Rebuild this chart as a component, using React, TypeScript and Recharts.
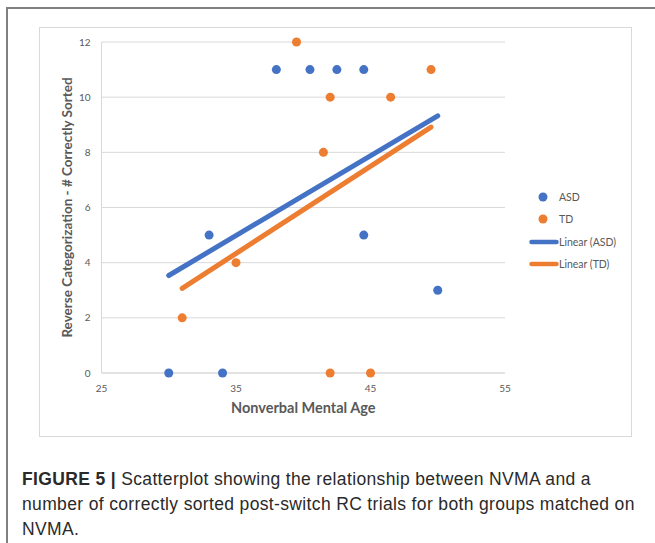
import { CartesianGrid, Legend, Scatter, ScatterChart, XAxis, YAxis } from 'recharts';

const asdAge = [30, 34, 33, 38, 40.5, 42.5, 44.5, 44.5, 50];
const asdSorted = [0, 0, 5, 11, 11, 11, 11, 5, 3];
const tdAge = [31, 35, 39.5, 42, 46.5, 49.5, 41.5, 42, 45];
const tdSorted = [2, 4, 12, 10, 10, 11, 8, 0, 0];
const xTicks = [25, 35, 45, 55];
const yTicks = [0, 2, 4, 6, 8, 10, 12];

const asdPoints = asdAge.map((age, i) => ({ age, sorted: asdSorted[i] }));
const tdPoints = tdAge.map((age, i) => ({ age, sorted: tdSorted[i] }));

const BLUE = '#4472C4';
const ORANGE = '#ED7D31';
const TEXT = '#595959';
const GRID = '#d9d9d9';
const FONT = 'Lato, "Open Sans", sans-serif';

// biome-ignore lint/suspicious/noExplicitAny: legend payload is loosely typed
function TrendLegend({ payload }: { payload?: any[] }) {
  const items = payload ?? [];
  const row = { display: 'flex', alignItems: 'center', height: 22.3 } as const;
  return (
    <div style={{ fontFamily: FONT, fontSize: 10.5, color: TEXT }}>
      {items.map((p) => (
        <div key={`dot-${p.value}`} style={row}>
          <svg width={30} height={22}>
            <circle cx={14} cy={11} r={4.5} fill={p.color} />
          </svg>
          <span>{p.value}</span>
        </div>
      ))}
      {items.map((p) => (
        <div key={`line-${p.value}`} style={row}>
          <svg width={30} height={22}>
            <line x1={2.5} y1={11} x2={27.5} y2={11} stroke={p.color} strokeWidth={4.5} strokeLinecap="round" />
          </svg>
          <span>{`Linear (${p.value})`}</span>
        </div>
      ))}
    </div>
  );
}

export default function App() {
  return (
    <div style={{ position: 'absolute', left: 0, top: 0, width: 655, height: 543, background: '#fff', overflow: 'hidden' }}>
      <div style={{ position: 'absolute', left: 6, top: 7, width: 660, height: 560, borderTop: '2px solid #808080', borderLeft: '2px solid #808080' }} />
      <div style={{ position: 'absolute', left: 39, top: 27, width: 591, height: 408, border: `1px solid ${GRID}` }} />
      <div style={{ position: 'absolute', left: 39, top: 27 }}>
        <ScatterChart width={592} height={409} margin={{ top: 15, right: 126, bottom: 0, left: 0 }}>
          <CartesianGrid vertical={false} stroke={GRID} />
          <XAxis
            type="number"
            dataKey="age"
            domain={[25, 55]}
            ticks={xTicks}
            interval={0}
            height={63}
            tickSize={0}
            tickMargin={12}
            tickLine={false}
            axisLine={{ stroke: GRID }}
            tick={{ fill: TEXT, fontSize: 10, fontFamily: FONT }}
            label={{
              value: 'Nonverbal Mental Age',
              position: 'insideTop',
              offset: 30,
              style: { fill: TEXT, fontSize: 14.5, fontWeight: 700, fontFamily: FONT },
            }}
          />
          <YAxis
            type="number"
            dataKey="sorted"
            domain={[0, 12]}
            ticks={yTicks}
            interval={0}
            width={62.5}
            tickSize={0}
            tickMargin={11}
            tickLine={false}
            axisLine={{ stroke: GRID }}
            tick={{ fill: TEXT, fontSize: 10, fontFamily: FONT }}
            label={{
              value: 'Reverse Categorization - # Correctly Sorted',
              angle: -90,
              position: 'insideLeft',
              offset: 28,
              style: { fill: TEXT, fontSize: 13.5, fontWeight: 700, fontFamily: FONT, textAnchor: 'middle' },
            }}
          />
          <Legend
            layout="vertical"
            align="center"
            verticalAlign="middle"
            content={<TrendLegend />}
            wrapperStyle={{ left: 490, top: 159, width: 130, height: 90 }}
          />
          <Scatter
            name="ASD"
            data={asdPoints}
            fill={BLUE}
            line={{ stroke: BLUE, strokeWidth: 5, strokeLinecap: 'round' }}
            lineType="fitting"
            isAnimationActive={false}
          />
          <Scatter
            name="TD"
            data={tdPoints}
            fill={ORANGE}
            line={{ stroke: ORANGE, strokeWidth: 5, strokeLinecap: 'round' }}
            lineType="fitting"
            isAnimationActive={false}
          />
        </ScatterChart>
      </div>
      <div
        style={{
          position: 'absolute',
          left: 22,
          top: 467,
          fontFamily: '"Liberation Sans", Arial, sans-serif',
          fontSize: 17.5,
          letterSpacing: 0.35,
          lineHeight: '25px',
          color: '#2a2a2a',
          whiteSpace: 'nowrap',
        }}
      >
        <div>
          <b>FIGURE 5 |</b> Scatterplot showing the relationship between NVMA and a
        </div>
        <div>number of correctly sorted post-switch RC trials for both groups matched on</div>
        <div>NVMA.</div>
      </div>
    </div>
  );
}
